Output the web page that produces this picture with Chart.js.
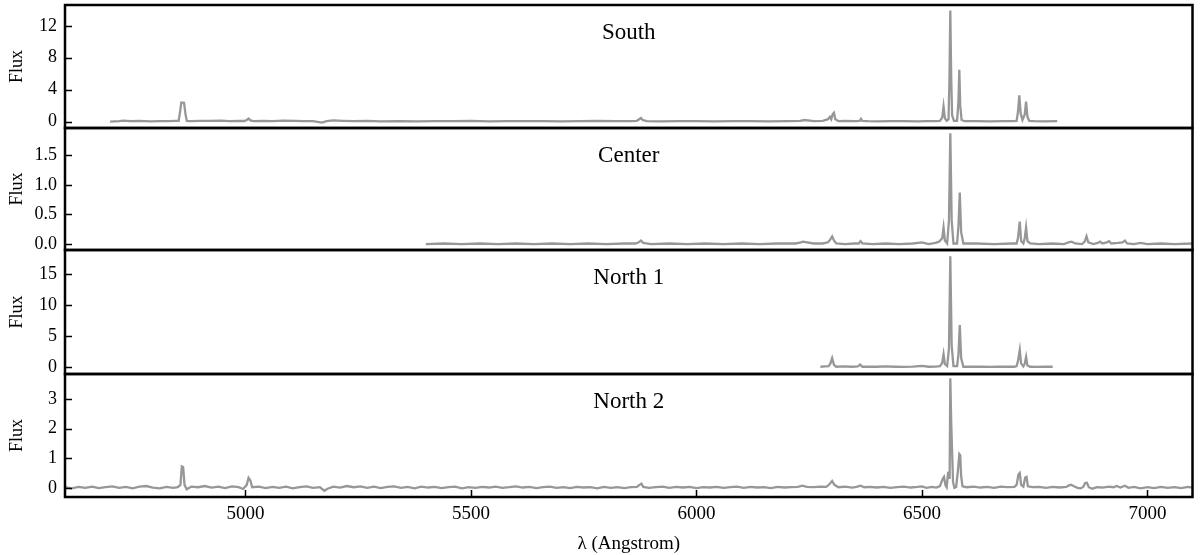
<!DOCTYPE html>
<html>
<head>
<meta charset="utf-8">
<script src="https://cdn.jsdelivr.net/npm/chart.js@4"></script>
<style>
  body { margin: 0; background: #fff; }
  #wrap { position: relative; width: 1200px; height: 555px; overflow: hidden; }
  .panel { position: absolute; left: 0; width: 1200px; }
</style>
</head>
<body>
<div id="wrap"></div>
<script>
// spectra (wavelength in Angstrom, flux)
const southWave = [
  4700, 4720, 4730, 4745, 4765, 4790, 4810, 4830, 4845, 4852,
  4855, 4858, 4864, 4867, 4870, 4880, 4900, 4920, 4945, 4965,
  4985, 4998, 5003, 5007, 5011, 5018, 5040, 5060, 5085, 5110,
  5130, 5150, 5170, 5180, 5195, 5215, 5240, 5270, 5300, 5340,
  5380, 5420, 5460, 5500, 5540, 5580, 5620, 5660, 5700, 5740,
  5780, 5820, 5850, 5868, 5873, 5877, 5881, 5890, 5920, 5960,
  6000, 6040, 6080, 6120, 6160, 6200, 6230, 6240, 6260, 6280,
  6292, 6296, 6299, 6302, 6305, 6308, 6315, 6330, 6350, 6362,
  6365, 6368, 6380, 6400, 6430, 6460, 6490, 6510, 6530, 6540,
  6545, 6548, 6551, 6555, 6559, 6561, 6563, 6565, 6567, 6571,
  6578, 6581, 6583, 6585, 6588, 6595, 6620, 6650, 6680, 6700,
  6710, 6713, 6716, 6719, 6723, 6728, 6731, 6734, 6738, 6750,
  6770, 6800
];
const southFlux = [
  0.0, 0.05, 0.12, 0.05, 0.08, 0.04, 0.06, 0.05, 0.08, 0.1,
  1.2, 2.4, 2.35, 1.0, 0.1, 0.05, 0.1, 0.08, 0.12, 0.06,
  0.1, 0.08, 0.2, 0.38, 0.15, 0.06, 0.1, 0.05, 0.12, 0.08,
  0.05, 0.06, -0.12, 0.05, 0.15, 0.1, 0.05, 0.08, 0.04, 0.07,
  0.03, 0.06, 0.05, 0.08, 0.04, 0.06, 0.05, 0.07, 0.04, 0.06,
  0.08, 0.05, 0.07, 0.1, 0.3, 0.45, 0.2, 0.05, 0.04, 0.06,
  0.05, 0.03, 0.06, 0.05, 0.04, 0.06, 0.1, 0.2, 0.05, 0.1,
  0.3, 0.6, 0.3, 0.9, 1.1, 0.3, 0.05, 0.08, 0.06, 0.1,
  0.35, 0.1, 0.05, 0.04, 0.06, 0.05, 0.04, 0.06, 0.05, 0.08,
  0.5, 1.9, 0.4, 0.1, 0.3, 5.0, 13.9, 5.5, 0.8, 0.1,
  0.1, 2.5, 6.5, 2.0, 0.2, 0.05, 0.06, 0.04, 0.05, 0.06,
  0.1, 1.2, 3.3, 1.0, 0.2, 0.9, 2.5, 0.6, 0.1, 0.05,
  0.04, 0.05
];

const centerWave = [
  5400, 5440, 5480, 5520, 5560, 5600, 5640, 5680, 5720, 5760,
  5800, 5840, 5865, 5872, 5877, 5882, 5900, 5940, 5980, 6020,
  6060, 6100, 6140, 6180, 6220, 6232, 6236, 6260, 6280, 6292,
  6297, 6301, 6305, 6310, 6330, 6350, 6360, 6364, 6368, 6390,
  6420, 6450, 6480, 6500, 6515, 6530, 6538, 6545, 6548, 6551,
  6556, 6560, 6563, 6566, 6570, 6578, 6581, 6584, 6587, 6592,
  6620, 6660, 6700, 6710, 6713, 6717, 6720, 6725, 6728, 6731,
  6734, 6740, 6760, 6790, 6815, 6825, 6832, 6840, 6855, 6861,
  6865, 6869, 6880, 6890, 6895, 6900, 6910, 6915, 6920, 6935,
  6945, 6950, 6955, 6970, 6985, 7000, 7030, 7060, 7100
];
const centerFlux = [
  0.0, 0.01, 0.0, 0.01, 0.0, 0.01, 0.0, 0.01, 0.0, 0.01,
  0.0, 0.01, 0.01, 0.03, 0.06, 0.02, 0.0, 0.01, 0.0, 0.01,
  0.0, 0.01, 0.0, 0.01, 0.01, 0.03, 0.04, 0.01, 0.01, 0.03,
  0.08, 0.13, 0.06, 0.01, 0.0, 0.01, 0.01, 0.05, 0.01, 0.0,
  0.01, 0.0, 0.01, 0.03, 0.0, 0.02, 0.04, 0.1, 0.28, 0.06,
  0.01, 0.4, 1.87, 0.4, 0.01, 0.01, 0.3, 0.87, 0.2, 0.01,
  0.01, 0.0, 0.01, 0.01, 0.1, 0.38, 0.05, 0.01, 0.1, 0.28,
  0.05, 0.01, 0.0, 0.01, 0.0, 0.03, 0.04, 0.01, 0.0, 0.04,
  0.13, 0.03, 0.0, 0.02, 0.04, 0.01, 0.03, 0.05, 0.01, 0.02,
  0.03, 0.06, 0.01, 0.0, 0.02, 0.0, 0.01, 0.0, 0.01
];

const north1Wave = [
  6275, 6285, 6293, 6297, 6301, 6305, 6310, 6325, 6345, 6358,
  6363, 6368, 6380, 6400, 6420, 6440, 6460, 6480, 6500, 6515,
  6530, 6540, 6545, 6548, 6551, 6556, 6560, 6563, 6566, 6570,
  6578, 6581, 6584, 6587, 6592, 6610, 6630, 6650, 6670, 6690,
  6705, 6710, 6713, 6717, 6720, 6725, 6728, 6731, 6734, 6740,
  6755, 6770, 6790
];
const north1Flux = [
  0.1, 0.15, 0.2, 0.6, 1.5, 0.4, 0.1, 0.15, 0.1, 0.15,
  0.45, 0.1, 0.12, 0.1, 0.15, 0.1, 0.08, 0.12, 0.25, 0.1,
  0.12, 0.2, 0.7, 2.1, 0.5, 0.2, 3.0, 17.9, 3.5, 0.2,
  0.2, 2.0, 6.8, 1.5, 0.1, 0.12, 0.1, 0.08, 0.1, 0.12,
  0.1, 0.2, 1.0, 2.8, 0.6, 0.15, 0.6, 1.7, 0.3, 0.1,
  0.08, 0.1, 0.1
];

const north2Wave = [
  4600, 4615, 4630, 4645, 4660, 4675, 4690, 4705, 4720, 4735,
  4750, 4765, 4780, 4795, 4810, 4825, 4840, 4850, 4856, 4859,
  4862, 4865, 4870, 4880, 4895, 4910, 4925, 4940, 4955, 4970,
  4985, 4995, 5003, 5007, 5011, 5015, 5030, 5045, 5060, 5075,
  5090, 5105, 5120, 5135, 5150, 5165, 5175, 5182, 5195, 5210,
  5225, 5240, 5255, 5270, 5285, 5300, 5315, 5330, 5345, 5360,
  5375, 5390, 5405, 5420, 5435, 5450, 5465, 5480, 5495, 5510,
  5525, 5540, 5555, 5570, 5585, 5600, 5615, 5630, 5645, 5660,
  5675, 5690, 5705, 5720, 5735, 5750, 5765, 5780, 5795, 5810,
  5825, 5840, 5855, 5868, 5874, 5878, 5882, 5895, 5910, 5925,
  5940, 5955, 5970, 5985, 6000, 6015, 6030, 6045, 6060, 6075,
  6090, 6105, 6120, 6135, 6150, 6165, 6180, 6195, 6210, 6225,
  6235, 6245, 6260, 6275, 6288, 6295, 6301, 6306, 6315, 6330,
  6345, 6355, 6364, 6372, 6385, 6400, 6415, 6430, 6445, 6460,
  6475, 6490, 6500, 6510, 6522, 6532, 6540, 6546, 6549, 6552,
  6555, 6558, 6560, 6561.5, 6563, 6565, 6567, 6569, 6572, 6576,
  6580, 6583, 6585, 6587, 6590, 6600, 6615, 6630, 6645, 6660,
  6675, 6690, 6705, 6710, 6714, 6717, 6720, 6725, 6729, 6732,
  6735, 6745, 6760, 6775, 6790, 6805, 6820, 6826, 6831, 6836,
  6845, 6852, 6858, 6862, 6866, 6870, 6878, 6888, 6900, 6915,
  6925, 6932, 6940, 6950, 6958, 6970, 6985, 7000, 7015, 7030,
  7045, 7060, 7075, 7090, 7100
];
const north2Flux = [
  0.02, -0.02, 0.03, 0.0, 0.04, -0.01, 0.02, 0.05, 0.0, 0.03,
  -0.02, 0.04, 0.06, 0.01, -0.02, 0.03, 0.0, 0.02, 0.1, 0.72,
  0.7, 0.1, -0.05, 0.04, 0.02, 0.06, 0.01, 0.04, -0.01, 0.05,
  0.02, -0.04, 0.1, 0.34, 0.25, 0.02, 0.04, -0.01, 0.03, 0.0,
  0.04, -0.02, 0.02, 0.05, 0.0, 0.02, -0.1, -0.03, 0.04, 0.01,
  0.06, 0.02, 0.05, 0.0, 0.04, -0.01, 0.03, 0.05, 0.0, 0.03,
  -0.02, 0.04, 0.01, 0.03, -0.01, 0.02, 0.04, -0.02, 0.02, 0.0,
  0.03, 0.01, 0.04, 0.0, 0.02, 0.05, 0.01, 0.03, -0.01, 0.02,
  0.04, 0.0, 0.02, -0.01, 0.03, 0.01, 0.02, -0.02, 0.03, 0.0,
  0.02, -0.01, 0.02, 0.03, 0.1, 0.14, 0.03, 0.0, 0.02, 0.04,
  0.0, 0.03, 0.01, 0.03, -0.01, 0.02, 0.01, 0.03, 0.0, 0.02,
  0.04, 0.0, 0.03, 0.01, 0.02, -0.01, 0.03, 0.01, 0.02, 0.03,
  0.07, 0.03, 0.02, 0.04, 0.03, 0.12, 0.23, 0.1, 0.02, 0.04,
  0.01, 0.03, 0.07, 0.02, 0.03, 0.01, 0.03, 0.0, 0.02, 0.04,
  0.01, 0.03, 0.05, 0.0, 0.03, 0.01, 0.06, 0.3, 0.37, 0.1,
  0.02, 0.5, 0.55, 0.3, 3.7, 2.2, 1.2, 0.2, 0.0, 0.03,
  0.6, 1.14, 1.1, 0.4, 0.05, 0.02, 0.04, 0.01, 0.03, 0.0,
  0.04, 0.02, 0.03, 0.1, 0.45, 0.5, 0.1, 0.04, 0.35, 0.37,
  0.05, 0.02, 0.03, 0.0, 0.03, 0.01, 0.03, 0.08, 0.1, 0.06,
  0.0, -0.02, 0.04, 0.16, 0.17, 0.02, -0.03, 0.02, 0.01, 0.04,
  0.02, 0.06, 0.01, 0.07, 0.0, 0.03, -0.02, 0.02, -0.01, 0.03,
  0.0, 0.02, -0.01, 0.03, 0.01
];

const panelTitles = ["South", "Center", "North 1", "North 2"];
const southTicks = [0, 4, 8, 12];
const centerTicks = [0, 0.5, 1.0, 1.5];
const north1Ticks = [0, 5, 10, 15];
const north2Ticks = [0, 1, 2, 3];
const waveTicks = [5000, 5500, 6000, 6500, 7000];

Chart.defaults.font.family = '"Liberation Serif", "Times New Roman", serif';
Chart.defaults.color = '#000';

const LINE = '#979797';

// frame box, inward ticks and the panel label
const framePlugin = {
  id: 'frame',
  afterDraw(chart, args, opts) {
    const { ctx, chartArea: a, scales } = chart;
    ctx.save();
    ctx.strokeStyle = '#000';
    ctx.lineWidth = 1.5;
    ctx.beginPath();
    scales.y.ticks.forEach(t => {
      const py = Math.round(scales.y.getPixelForValue(t.value)) + 0.5;
      ctx.moveTo(a.left, py);
      ctx.lineTo(a.left + 7, py);
    });
    if (opts.xTicks) {
      scales.x.ticks.forEach(t => {
        const px = Math.round(scales.x.getPixelForValue(t.value)) + 0.5;
        ctx.moveTo(px, a.bottom);
        ctx.lineTo(px, a.bottom - 7);
      });
    }
    ctx.stroke();
    ctx.lineWidth = 2.5;
    ctx.strokeRect(a.left, a.top, a.right - a.left, a.bottom - a.top);
    ctx.fillStyle = '#000';
    ctx.font = '23px "Liberation Serif", serif';
    ctx.textAlign = 'center';
    ctx.textBaseline = 'middle';
    ctx.fillText(opts.title, (a.left + a.right) / 2, a.top + 28);
    ctx.restore();
  }
};

const panels = [
  { title: panelTitles[0], wave: southWave, flux: southFlux, ticks: southTicks, dec: 0, yMin: -0.8, yMax: 14.6, top: 5, bottom: 128 },
  { title: panelTitles[1], wave: centerWave, flux: centerFlux, ticks: centerTicks, dec: 1, yMin: -0.1, yMax: 1.96, top: 128, bottom: 250 },
  { title: panelTitles[2], wave: north1Wave, flux: north1Flux, ticks: north1Ticks, dec: 0, yMin: -1.07, yMax: 18.9, top: 250, bottom: 374 },
  { title: panelTitles[3], wave: north2Wave, flux: north2Flux, ticks: north2Ticks, dec: 0, yMin: -0.31, yMax: 3.84, top: 374, bottom: 497 }
];

const wrap = document.getElementById('wrap');

panels.forEach((p, i) => {
  const last = i === panels.length - 1;
  const div = document.createElement('div');
  div.className = 'panel';
  const top = p.top - 4;
  const height = last ? 555 - top : (p.bottom - p.top) + 8;
  div.style.top = top + 'px';
  div.style.height = height + 'px';
  const canvas = document.createElement('canvas');
  div.appendChild(canvas);
  wrap.appendChild(div);

  new Chart(canvas, {
    type: 'line',
    data: {
      datasets: [{
        data: p.wave.map((w, k) => ({ x: w, y: p.flux[k] })),
        borderColor: LINE,
        borderWidth: 2.3,
        pointRadius: 0,
        tension: 0,
        fill: false
      }]
    },
    options: {
      responsive: true,
      maintainAspectRatio: false,
      animation: false,
      events: [],
      layout: { padding: { top: 4, bottom: last ? 0 : 4, left: 0, right: 7.5 } },
      plugins: {
        legend: { display: false },
        tooltip: { enabled: false },
        frame: { title: p.title, xTicks: last }
      },
      scales: {
        x: {
          type: 'linear',
          min: 4600,
          max: 7100,
          display: last,
          grid: { display: false, drawTicks: false },
          border: { display: false },
          afterBuildTicks: s => { s.ticks = waveTicks.map(v => ({ value: v })); },
          afterFit: s => {
            if (last) s.height = 58;
            s.paddingLeft = 0;
            s.paddingRight = 0;
          },
          ticks: {
            padding: 6,
            maxRotation: 0,
            font: { size: 19 },
            callback: v => String(v)
          },
          title: {
            display: true,
            text: 'λ (Angstrom)',
            font: { size: 19 },
            padding: { top: 0, bottom: 0 }
          }
        },
        y: {
          type: 'linear',
          min: p.yMin,
          max: p.yMax,
          grid: { display: false, drawTicks: false },
          border: { display: false },
          afterBuildTicks: s => { s.ticks = p.ticks.map(v => ({ value: v })); },
          afterFit: s => {
            s.width = 65;
            s.paddingTop = 0;
            s.paddingBottom = 0;
          },
          ticks: {
            padding: 8,
            font: { size: 18 },
            callback: v => v.toFixed(p.dec)
          },
          title: {
            display: true,
            text: 'Flux',
            font: { size: 18 },
            padding: { top: 6, bottom: 0 }
          }
        }
      }
    },
    plugins: [framePlugin]
  });
});
</script>
</body>
</html>
